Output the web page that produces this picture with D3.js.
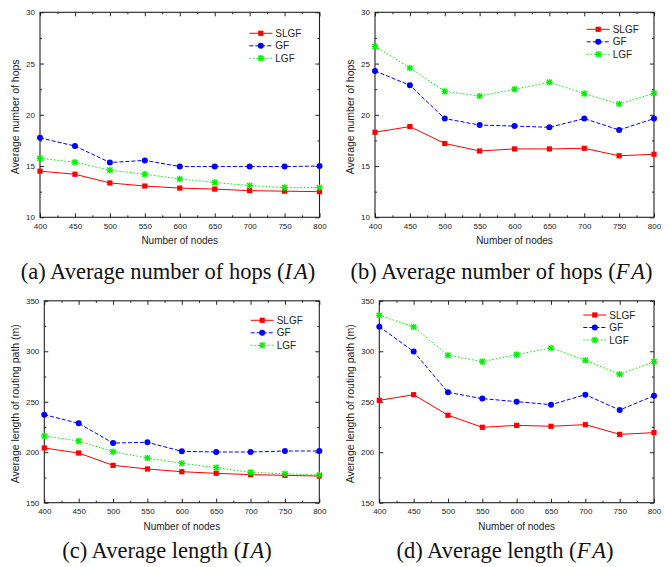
<!DOCTYPE html>
<html>
<head>
<meta charset="utf-8">
<script src="https://cdn.jsdelivr.net/npm/d3@7"></script>
<style>
  html, body { margin: 0; padding: 0; background: #fff; }
  svg { display: block; }
</style>
</head>
<body>
<svg id="chart" width="670" height="567"></svg>
<script>
// ---------- data ----------
const nodes = [400, 450, 500, 550, 600, 650, 700, 750, 800];
const seriesNames = ["SLGF", "GF", "LGF"];

const hopsIA_SLGF = [14.5, 14.2, 13.35, 13.05, 12.85, 12.75, 12.6, 12.55, 12.5];
const hopsIA_GF   = [17.75, 16.95, 15.35, 15.55, 14.95, 14.95, 14.95, 14.95, 15.0];
const hopsIA_LGF  = [15.75, 15.37, 14.6, 14.2, 13.74, 13.4, 13.1, 12.9, 12.9];

const hopsFA_SLGF = [18.3, 18.85, 17.2, 16.47, 16.67, 16.67, 16.73, 16.0, 16.15];
const hopsFA_GF   = [24.28, 22.88, 19.63, 19.0, 18.9, 18.78, 19.63, 18.52, 19.63];
const hopsFA_LGF  = [26.68, 24.57, 22.29, 21.84, 22.49, 23.17, 22.07, 21.06, 22.1];

const lenIA_SLGF = [204.2, 199.2, 187.0, 183.4, 180.7, 179.1, 177.8, 177.1, 176.4];
const lenIA_GF   = [237.2, 228.6, 209.1, 209.8, 200.9, 200.2, 200.2, 201.2, 201.2];
const lenIA_LGF  = [216.1, 211.1, 200.5, 194.3, 189.0, 184.7, 180.0, 178.7, 177.4];

const lenFA_SLGF = [251.4, 257.0, 236.6, 224.7, 226.6, 225.7, 227.3, 217.7, 219.4];
const lenFA_GF   = [324.4, 299.7, 259.3, 253.1, 250.1, 247.1, 257.0, 241.8, 256.0];
const lenFA_LGF  = [335.7, 324.1, 296.0, 289.7, 296.7, 303.3, 291.0, 277.2, 289.7];

const hopsTicks = [10, 15, 20, 25, 30];
const lenTicks  = [150, 200, 250, 300, 350];
const xTitle = "Number of nodes";
const hopsTitle = "Average number of hops";
const lenTitle = "Average length of routing path (m)";
const captionsMain = ["(a) Average number of hops (", "(b) Average number of hops (", "(c) Average length (", "(d) Average length ("];
const captionsMath = ["I\u200AA", "F\u200AA", "I\u200AA", "F\u200AA"];

// ---------- styles ----------
const styles = {
  SLGF: { color: "#ff0000", dash: null, marker: "square" },
  GF:   { color: "#0000ff", dash: "4,2", marker: "circle" },
  LGF:  { color: "#00ee00", dash: "1.5,2", marker: "star" }
};

const svg = d3.select("#chart");
const sans = "'Liberation Sans', Arial, Helvetica, sans-serif";
const serif = "'Liberation Serif', 'Times New Roman', Times, serif";

function drawMarker(g, type, cx, cy, color) {
  if (type === "square") {
    g.append("rect").attr("x", cx - 2.6).attr("y", cy - 2.6).attr("width", 5.2).attr("height", 5.2)
      .attr("fill", color);
  } else if (type === "circle") {
    g.append("circle").attr("cx", cx).attr("cy", cy).attr("r", 3).attr("fill", color);
  } else {
    const r = 3.2;
    const s = g.append("g").attr("stroke", color).attr("stroke-width", 1.4);
    s.append("line").attr("x1", cx - r).attr("x2", cx + r).attr("y1", cy).attr("y2", cy);
    s.append("line").attr("x1", cx).attr("x2", cx).attr("y1", cy - r).attr("y2", cy + r);
    s.append("line").attr("x1", cx - r * 0.8).attr("x2", cx + r * 0.8).attr("y1", cy - r * 0.8).attr("y2", cy + r * 0.8);
    s.append("line").attr("x1", cx - r * 0.8).attr("x2", cx + r * 0.8).attr("y1", cy + r * 0.8).attr("y2", cy - r * 0.8);
  }
}

function panel(cfg) {
  const x = d3.scaleLinear().domain([400, 800]).range([cfg.left, cfg.right]);
  const y = d3.scaleLinear().domain([cfg.yTicks[0], cfg.yTicks[cfg.yTicks.length - 1]]).range([cfg.bottom, cfg.top]);
  const g = svg.append("g");
  const axisColor = "#222";

  const xMinor = d3.range(425, 800, 50);
  const yStep = cfg.yTicks[1] - cfg.yTicks[0];
  const yMinor = cfg.yTicks.slice(0, -1).map(v => v + yStep / 2);

  function styleAxis(sel) {
    sel.select(".domain").remove();
    sel.selectAll("line").attr("stroke", axisColor).attr("stroke-width", 1);
    sel.selectAll("text").attr("font-family", sans).attr("font-size", 8).attr("fill", "#222");
  }

  // bottom
  g.append("g").attr("transform", `translate(0,${cfg.bottom})`)
    .call(d3.axisBottom(x).tickValues(nodes).tickSizeInner(-4).tickSizeOuter(0).tickPadding(6).tickFormat(d3.format("d")))
    .call(styleAxis);
  g.append("g").attr("transform", `translate(0,${cfg.bottom})`)
    .call(d3.axisBottom(x).tickValues(xMinor).tickSizeInner(-2).tickSizeOuter(0).tickFormat(""))
    .call(styleAxis);
  // top
  g.append("g").attr("transform", `translate(0,${cfg.top})`)
    .call(d3.axisTop(x).tickValues(nodes).tickSizeInner(-4).tickSizeOuter(0).tickFormat(""))
    .call(styleAxis);
  g.append("g").attr("transform", `translate(0,${cfg.top})`)
    .call(d3.axisTop(x).tickValues(xMinor).tickSizeInner(-2).tickSizeOuter(0).tickFormat(""))
    .call(styleAxis);
  // left
  g.append("g").attr("transform", `translate(${cfg.left},0)`)
    .call(d3.axisLeft(y).tickValues(cfg.yTicks).tickSizeInner(-4).tickSizeOuter(0).tickPadding(5).tickFormat(d3.format("d")))
    .call(styleAxis);
  g.append("g").attr("transform", `translate(${cfg.left},0)`)
    .call(d3.axisLeft(y).tickValues(yMinor).tickSizeInner(-2).tickSizeOuter(0).tickFormat(""))
    .call(styleAxis);
  // right
  g.append("g").attr("transform", `translate(${cfg.right},0)`)
    .call(d3.axisRight(y).tickValues(cfg.yTicks).tickSizeInner(-4).tickSizeOuter(0).tickFormat(""))
    .call(styleAxis);
  g.append("g").attr("transform", `translate(${cfg.right},0)`)
    .call(d3.axisRight(y).tickValues(yMinor).tickSizeInner(-2).tickSizeOuter(0).tickFormat(""))
    .call(styleAxis);

  // frame
  g.append("rect").attr("x", cfg.left).attr("y", cfg.top)
    .attr("width", cfg.right - cfg.left).attr("height", cfg.bottom - cfg.top)
    .attr("fill", "none").attr("stroke", axisColor).attr("stroke-width", 1.1);

  // axis titles
  g.append("text").attr("x", (cfg.left + cfg.right) / 2).attr("y", cfg.bottom + 27)
    .attr("text-anchor", "middle").attr("font-family", sans).attr("font-size", 10).attr("fill", "#222")
    .text(xTitle);
  const yc = (cfg.top + cfg.bottom) / 2 + 2;
  g.append("text").attr("transform", `translate(${cfg.yTitleX},${yc}) rotate(-90)`)
    .attr("text-anchor", "middle").attr("font-family", sans).attr("font-size", 10.5).attr("fill", "#222")
    .text(cfg.yTitle);

  // series
  const line = d3.line().x((d, i) => x(nodes[i])).y(d => y(d));
  cfg.series.forEach((vals, si) => {
    const st = styles[seriesNames[si]];
    g.append("path").datum(vals).attr("d", line).attr("fill", "none")
      .attr("stroke", st.color).attr("stroke-width", 1)
      .attr("stroke-dasharray", st.dash);
    const mg = g.append("g");
    vals.forEach((v, i) => drawMarker(mg, st.marker, x(nodes[i]), y(v), st.color));
  });

  // legend
  seriesNames.forEach((name, i) => {
    const st = styles[name];
    const ly = cfg.legY + i * 12.5;
    g.append("line").attr("x1", cfg.legX).attr("x2", cfg.legX + 23).attr("y1", ly).attr("y2", ly)
      .attr("stroke", st.color).attr("stroke-width", 1).attr("stroke-dasharray", st.dash);
    drawMarker(g, st.marker, cfg.legX + 11.5, ly, st.color);
    g.append("text").attr("x", cfg.legX + 26).attr("y", ly).attr("dy", "0.36em")
      .attr("font-family", sans).attr("font-size", 10).attr("fill", "#222").text(name);
  });

  // caption
  const cap = svg.append("text").attr("x", cfg.capX).attr("y", cfg.capY)
    .attr("text-anchor", "middle").attr("font-family", serif).attr("font-size", 22.5).attr("fill", "#111");
  cap.append("tspan").text(captionsMain[cfg.idx]);
  cap.append("tspan").attr("font-style", "italic").text(captionsMath[cfg.idx]);
  cap.append("tspan").text(")");
}

panel({ idx: 0, left: 40, right: 319.5, top: 12.3, bottom: 217.3, yTicks: hopsTicks, yTitle: hopsTitle, yTitleX: 19,
  series: [hopsIA_SLGF, hopsIA_GF, hopsIA_LGF], legX: 249.3, legY: 33.3, capX: 168, capY: 279 });
panel({ idx: 1, left: 375, right: 654, top: 12.3, bottom: 217.3, yTicks: hopsTicks, yTitle: hopsTitle, yTitleX: 354,
  series: [hopsFA_SLGF, hopsFA_GF, hopsFA_LGF], legX: 586.7, legY: 29.3, capX: 501.5, capY: 279 });
panel({ idx: 2, left: 44.3, right: 319.3, top: 300.8, bottom: 502.7, yTicks: lenTicks, yTitle: lenTitle, yTitleX: 19,
  series: [lenIA_SLGF, lenIA_GF, lenIA_LGF], legX: 250.7, legY: 320.3, capX: 167, capY: 558 });
panel({ idx: 3, left: 379.3, right: 654, top: 300.8, bottom: 502.7, yTicks: lenTicks, yTitle: lenTitle, yTitleX: 354,
  series: [lenFA_SLGF, lenFA_GF, lenFA_LGF], legX: 583.3, legY: 315, capX: 505, capY: 558 });
</script>
</body>
</html>
